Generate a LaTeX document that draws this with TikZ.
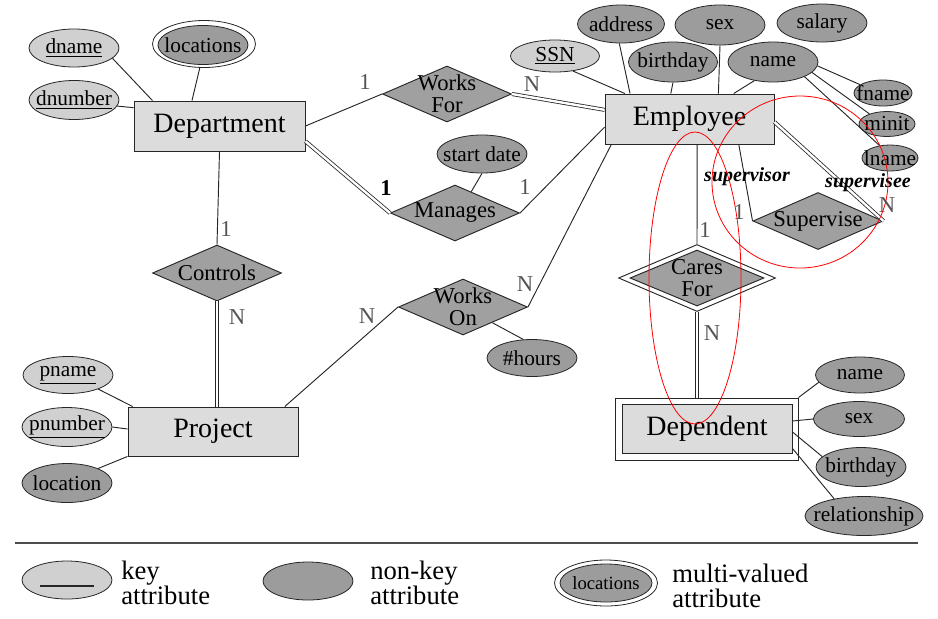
\documentclass[tikz,border=0pt]{standalone}
\usepackage{fontspec}
\setmainfont{Liberation Serif}
\usetikzlibrary{shapes.geometric,calc}
\definecolor{entfill}{HTML}{DCDCDC}
\definecolor{keyfill}{HTML}{D0D0D0}
\definecolor{attfill}{HTML}{9C9C9C}
\definecolor{relfill}{HTML}{A0A0A0}
\definecolor{edgec}{HTML}{262626}
\definecolor{cardc}{HTML}{555555}
\tikzset{
  ent/.style={draw=edgec, line width=0.7pt, fill=entfill, rectangle, inner sep=0pt, font=\fontsize{21}{24}\selectfont},
  rel/.style={draw=edgec, line width=0.7pt, fill=relfill, diamond, inner sep=0pt, minimum width=129*0.75pt, minimum height=56*0.75pt},
  rtxt/.style={font=\fontsize{17}{16.5}\selectfont, align=center, inner sep=0pt},
  attr/.style={draw=edgec, line width=0.6pt, fill=attfill, ellipse, inner sep=0pt, minimum width=90*0.75pt, minimum height=38*0.75pt},
  keyat/.style={attr, fill=keyfill},
  atxt/.style={font=\fontsize{16}{18}\selectfont, inner sep=0pt},
  T/.style={label={[atxt]center:{#1}}},
  R/.style={label={[rtxt]center:{#1}}},
  card/.style={font=\fontsize{17}{20}\selectfont, text=cardc, inner sep=0pt},
  conn/.style={draw=edgec, line width=0.7pt},
  dbl/.style={draw=edgec, double=white, double distance=1.8pt, line width=0.6pt},
  role/.style={font=\fontsize{15}{18}\selectfont\bfseries\itshape, inner sep=0pt},
  legt/.style={font=\fontsize{20}{18.5}\selectfont, align=left, anchor=west, inner sep=0pt},
  redc/.style={draw=red, line width=0.6pt},
  multiout/.style={draw=edgec, line width=0.6pt, fill=white, ellipse, inner sep=0pt}
}
\begin{document}
\begin{tikzpicture}[x=0.75pt,y=-0.75pt]
\useasboundingbox (0,0) rectangle (938,618);

% ---------- entities ----------
\node[ent, minimum width=171*0.75pt, minimum height=50*0.75pt] (dept) at (219.5,126) {Department};
\node[ent, minimum width=170*0.75pt, minimum height=49*0.75pt] (proj) at (213,431.5) {Project};
\node[ent, minimum width=169*0.75pt, minimum height=50*0.75pt] (emp) at (689.5,119) {Employee};
\node[draw=edgec, line width=0.7pt, fill=white, rectangle, inner sep=0pt, minimum width=183*0.75pt, minimum height=62*0.75pt] (dep) at (706.5,429) {};
\node[ent, minimum width=170*0.75pt, minimum height=49*0.75pt] (depIn) at (707,428.5) {Dependent};

% ---------- relationships ----------
\node[rel, R={Works\\For}] (wf) at (447,94) {};
\node[rel, R={Manages}] (mng) at (455,213) {};
\node[rel, R={Works\\On}] (wo) at (463,307) {};
\node[rel, R={Controls}] (ctrl) at (217,273) {};
\node[rel, minimum width=130*0.75pt, minimum height=57*0.75pt, R={Supervise}] (sup) at (818,221) {};
\node[draw=edgec, line width=0.7pt, fill=white, diamond, inner sep=0pt, minimum width=157*0.75pt, minimum height=67*0.75pt] (cf) at (697,278) {};
\node[rel, minimum width=134*0.75pt, minimum height=56*0.75pt, R={Cares\\For}] (cfIn) at (697,278) {};

% ---------- department attributes ----------
\node[keyat, T={\underline{dname}}] (dname) at (74,48) {};
\node[keyat, minimum height=39*0.75pt, T={\underline{dnumber}}] (dnum) at (74,100) {};
\node[multiout, minimum width=103*0.75pt, minimum height=47*0.75pt] (locs) at (204,44) {};
\node[attr, minimum width=90*0.75pt, minimum height=39*0.75pt, T={locations}] (locsIn) at (203,45) {};

% ---------- project attributes ----------
\node[keyat, minimum height=37*0.75pt, T={\underline{pname}}] (pname) at (68,375) {};
\node[keyat, minimum height=39*0.75pt, T={\underline{pnumber}}] (pnum) at (67,427) {};
\node[attr, minimum height=39*0.75pt, T={location}] (ploc) at (67,483) {};

% ---------- relationship attributes ----------
\node[attr, T={start date}] (sdate) at (482,154) {};
\node[attr, minimum height=37*0.75pt, T={\#hours}] (hours) at (532,358) {};

% ---------- employee attributes ----------
\node[keyat, minimum width=89*0.75pt, minimum height=32*0.75pt, T={\underline{SSN}}] (ssn) at (555,56) {};
\node[attr, minimum width=87*0.75pt, T={address}] (addr) at (621,24) {};
\node[attr, minimum height=40*0.75pt, T={sex}] (esex) at (720,25) {};
\node[attr, T={salary}] (sal) at (822,23) {};
\node[attr, minimum width=89*0.75pt, minimum height=40*0.75pt, T={birthday}] (bday) at (673,62) {};
\node[attr, minimum height=40*0.75pt, T={name}] (ename) at (773,62) {};
\node[attr, minimum width=58*0.75pt, minimum height=26*0.75pt, T={fname}] (fname) at (883,93) {};
\node[attr, minimum width=56*0.75pt, minimum height=25*0.75pt, T={minit}] (minit) at (887,124) {};
\node[attr, minimum width=56*0.75pt, minimum height=26*0.75pt, T={lname}] (lname) at (890,158) {};

% ---------- dependent attributes ----------
\node[attr, minimum width=89*0.75pt, minimum height=36*0.75pt, T={name}] (dpname) at (860,375) {};
\node[attr, minimum width=91*0.75pt, minimum height=35*0.75pt, T={sex}] (dpsex) at (859,419) {};
\node[attr, minimum height=39*0.75pt, T={birthday}] (dpbday) at (861,467) {};
\node[attr, minimum width=118*0.75pt, minimum height=39*0.75pt, T={relationship}] (dprel) at (864,516) {};

% ---------- connectors ----------
\draw[conn] (dname.-15) -- ($(dept.north west)!0.11!(dept.north east)$);
\draw[conn] (dnum.-8) -- ($(dept.north west)!0.14!(dept.south west)$);
\draw[conn] (locs.-100) -- ($(dept.north west)!0.34!(dept.north east)$);
\draw[conn] (dept.south) -- (ctrl.north);
\draw[dbl] (ctrl.south) -- (ctrl.south |- proj.north);
\draw[conn] (dept.east) -- (wf.west);
\draw[dbl] ($(dept.north east)!0.8!(dept.south east)$) -- (mng.west);
\draw[dbl] (wf.east) -- ($(emp.north west)!0.32!(emp.south west)$);
\draw[conn] (mng.east) -- ($(emp.north west)!0.66!(emp.south west)$);
\draw[conn] (sdate.south) -- ($(mng.north)!0.25!(mng.east)$);
\draw[conn] ($(proj.north west)!0.92!(proj.north east)$) -- (wo.west);
\draw[conn] (wo.east) -- ($(emp.south west)!0.04!(emp.south east)$);
\draw[conn] ($(wo.south)!0.45!(wo.east)$) -- (hours.115);

\draw[conn] (pname.-25) -- ($(proj.north west)!0.03!(proj.north east)$);
\draw[conn] (pnum.east) -- ($(proj.north west)!0.45!(proj.south west)$);
\draw[conn] (ploc.25) -- (proj.south west);

\draw[conn] (ssn.-40) -- ($(emp.north west)!0.12!(emp.north east)$);
\draw[conn] (addr.-95) -- ($(emp.north west)!0.15!(emp.north east)$);
\draw[conn] (bday.south) -- ($(emp.north west)!0.39!(emp.north east)$);
\draw[conn] (esex.south) -- ($(emp.north west)!0.67!(emp.north east)$);
\draw[conn] (ename.-135) -- ($(emp.north west)!0.76!(emp.north east)$);
\draw[conn] (ename.-5) -- (fname.160);
\draw[conn] (ename.-15) -- (minit.150);
\draw[conn] (ename.-25) -- (lname.130);

\draw[dbl] ($(emp.north east)!0.56!(emp.south east)$) -- (sup.east);
\draw[conn] ($(emp.south west)!0.79!(emp.south east)$) -- (sup.west);
\draw[conn] ($(emp.south west)!0.545!(emp.south east)$) -- (cf.north);
\draw[dbl] (cf.south) -- (cf.south |- dep.north);

\draw[conn] (dpname.190) -- (dep.north east);
\draw[conn] (dpsex.west) -- ($(depIn.north east)!0.35!(depIn.south east)$);
\draw[conn] (dpbday.165) -- ($(depIn.north east)!0.57!(depIn.south east)$);
\draw[conn] (dprel.150) -- ($(depIn.north east)!0.9!(depIn.south east)$);

% ---------- cardinalities and roles ----------
\node[card] (c1) at (365,82) {1};
\node[card] (c2) at (532,84) {N};
\node[card, text=black, font=\fontsize{17}{20}\selectfont\bfseries] (c3) at (386,188) {1};
\node[card] (c4) at (525,187) {1};
\node[card] (c5) at (226,229) {1};
\node[card] (c6) at (237,317) {N};
\node[card] (c7) at (367,316) {N};
\node[card] (c8) at (525,284) {N};
\node[card] (c9) at (739,212) {1};
\node[card] (c10) at (887,205) {N};
\node[card] (c11) at (705,230) {1};
\node[card] (c12) at (712,333) {N};
\node[role] (r1) at (747,177) {supervisor};
\node[role] (r2) at (868,183) {supervisee};

% ---------- red annotation ellipses ----------
\draw[redc] (695,278) ellipse [x radius=46, y radius=146];
\draw[redc] (800,182) ellipse [x radius=88, y radius=86];

% ---------- legend ----------
\coordinate (legL) at (15,543);
\coordinate (legR) at (918,543);
\draw[draw=black!70, line width=2.2pt] (legL) -- (legR);
\node[keyat] (keyL) at (67,580) {};
\draw[draw=black!85, line width=1.6pt] ($(keyL.center)+(-27,6)$) -- ($(keyL.center)+(27,6)$);
\node[legt] (keyT) at (121,583) {key\\attribute};
\node[attr] (nonL) at (308,581) {};
\node[legt] (nonT) at (370,583) {non-key\\attribute};
\node[multiout, minimum width=103*0.75pt, minimum height=46*0.75pt] (mulL) at (606,583) {};
\node[attr, minimum width=92*0.75pt, minimum height=38*0.75pt, label={[inner sep=0pt, font=\fontsize{14}{16}\selectfont]center:locations}] (mulIn) at (606,583) {};
\node[legt] (mulT) at (672,586) {multi-valued\\attribute};
\end{tikzpicture}
\end{document}
